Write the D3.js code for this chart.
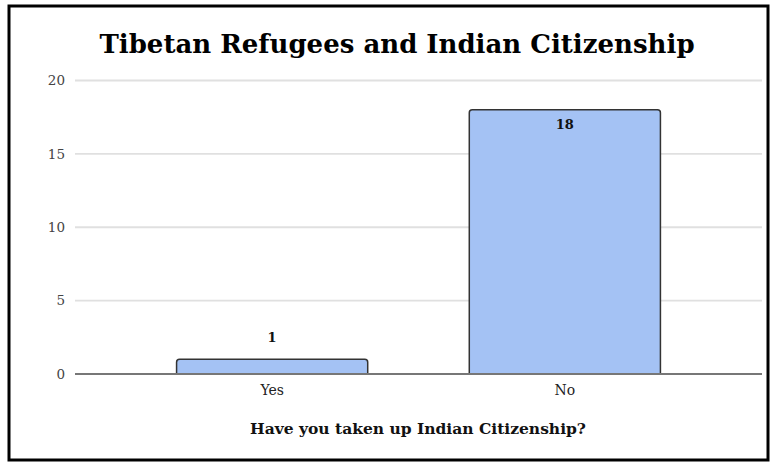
<!DOCTYPE html>
<html>
<head>
<meta charset="utf-8">
<script src="https://cdn.jsdelivr.net/npm/d3@7"></script>
<style>
  body { margin: 0; background: #fff; }
  text { font-family: "DejaVu Serif", Georgia, serif; }
</style>
</head>
<body>
<div id="chart"></div>
<script>
// Data
const categories = ['Yes', 'No']
const answers = [1, 18]
const yTicks = [0, 5, 10, 15, 20]

const W = 775, H = 463

const svg = d3.select('#chart')
    .append('svg')
    .attr('width', W)
    .attr('height', H)

// outer frame
svg.append('rect')
    .attr('x', 9)
    .attr('y', 6)
    .attr('width', 759)
    .attr('height', 454)
    .attr('fill', '#fff')
    .attr('stroke', '#000')
    .attr('stroke-width', 3)

// Scales
let x = d3.scaleBand().domain(categories).range([75, 762]).paddingInner(0.347).paddingOuter(0.347)
let y = d3.scaleLinear().domain([0, 20]).range([374, 80.5])

// grid lines
svg.append('g')
    .selectAll('line')
    .data(yTicks.filter(d => d > 0))
    .enter()
    .append('line')
    .attr('x1', 75)
    .attr('x2', 762)
    .attr('y1', d => y(d))
    .attr('y2', d => y(d))
    .attr('stroke', '#e0e0e0')
    .attr('stroke-width', 1.8)

// Y axis
let yAxis = svg.append('g')
    .attr('transform', 'translate(75,0)')
    .call(d3.axisLeft(y).tickValues(yTicks).tickSize(0).tickPadding(10))
yAxis.select('.domain').remove()
yAxis.selectAll('text')
    .attr('font-family', '"DejaVu Serif", serif')
    .attr('font-size', 13.5)
    .attr('fill', '#444')

// Bars, rounded top corners only
const r = 3
svg.append('g')
    .selectAll('path')
    .data(answers)
    .enter()
    .append('path')
    .attr('d', (d, i) => {
        let x0 = x(categories[i]), x1 = x0 + x.bandwidth()
        let yt = y(d), yb = y(0)
        return `M${x0},${yb}V${yt + r}Q${x0},${yt} ${x0 + r},${yt}H${x1 - r}Q${x1},${yt} ${x1},${yt + r}V${yb}`
    })
    .attr('fill', '#a4c2f4')
    .attr('stroke', '#333')
    .attr('stroke-width', 1.5)

// baseline
svg.append('line')
    .attr('x1', 75)
    .attr('x2', 762)
    .attr('y1', y(0))
    .attr('y2', y(0))
    .attr('stroke', '#777')
    .attr('stroke-width', 2)

// X axis labels
let xAxis = svg.append('g')
    .attr('transform', 'translate(0,' + y(0) + ')')
    .call(d3.axisBottom(x).tickSize(0).tickPadding(11))
xAxis.select('.domain').remove()
xAxis.selectAll('text')
    .attr('font-family', '"DejaVu Serif", serif')
    .attr('font-size', 14)
    .attr('fill', '#222')

// value labels
svg.append('g')
    .selectAll('text')
    .data(answers)
    .enter()
    .append('text')
    .attr('x', (d, i) => x(categories[i]) + x.bandwidth() / 2)
    .attr('y', d => d > 10 ? y(d) + 19 : y(d) - 17)
    .attr('text-anchor', 'middle')
    .attr('font-size', 13)
    .attr('font-weight', 'bold')
    .attr('fill', '#111')
    .text(d => d)

// title
svg.append('text')
    .attr('x', 397)
    .attr('y', 53)
    .attr('text-anchor', 'middle')
    .attr('font-size', 26)
    .attr('font-weight', 'bold')
    .attr('fill', '#000')
    .text('Tibetan Refugees and Indian Citizenship')

// axis title
svg.append('text')
    .attr('x', 418)
    .attr('y', 434)
    .attr('text-anchor', 'middle')
    .attr('font-size', 15.5)
    .attr('font-weight', 'bold')
    .attr('fill', '#111')
    .text('Have you taken up Indian Citizenship?')
</script>
</body>
</html>
